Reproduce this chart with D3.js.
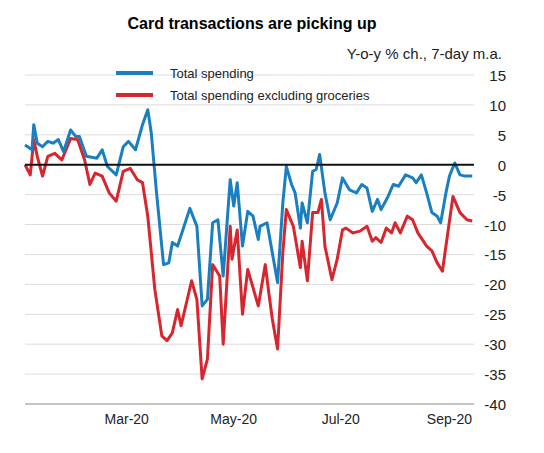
<!DOCTYPE html>
<html><head><meta charset="utf-8">
<script src="https://cdn.jsdelivr.net/npm/d3@7"></script>
<style>body{margin:0;background:#fff;font-family:Arial,"Liberation Sans",sans-serif}</style>
</head><body><div id="chart"></div>
<script>
// day of year 2020 (Jan 1 = 1) and y-o-y % change
const totalDays = [3,7,8,10,13,16,19,22,25,29,32,34,38,44,47,50,55,59,62,66,70,73,75,78,82,85,87,90,93,97,101,104,107,110,113,116,120,122,124,127,130,133,136,137,141,144,147,150,152,155,157,160,161,164,167,169,171,174,177,181,184,188,192,195,198,201,204,206,210,213,216,220,224,226,229,232,235,238,240,243,245,248,251,254,258];
const totalVals = [3.3,2.5,6.7,3.6,3,3.9,3.6,4.2,2.2,5.8,4.7,4.7,1.4,1.1,2.5,-0.3,-1.7,3,3.9,2.5,6.7,9.2,5.3,-4.7,-16.7,-16.4,-13,-13.6,-10.9,-7.3,-10.3,-23.6,-22.5,-9.7,-9.2,-18.6,-2.5,-6.9,-3,-13.6,-7.8,-8.6,-12.5,-10.3,-9.7,-14.7,-19.7,-6.4,-0.3,-3.3,-4.7,-10.6,-6.4,-9.7,-1.1,-0.8,1.7,-4.7,-9.2,-6.4,-2.2,-4.2,-4.7,-3.3,-3.9,-7.8,-5.8,-7.5,-5.3,-3.3,-3.6,-1.7,-2.2,-3,-1.7,-4.7,-8,-8.6,-9.7,-4.7,-1.9,0.3,-1.7,-1.9,-1.9];
const exGrocDays = [3,6,8,10,13,16,20,24,29,33,37,40,43,47,51,55,59,63,67,70,73,77,81,84,87,90,92,98,101,104,107,110,114,116,120,121,124,127,130,136,140,142,144,147,150,152,156,160,161,164,167,170,172,174,178,181,184,186,190,194,198,201,203,206,209,212,214,217,221,224,227,232,235,238,241,243,247,251,255,258];
const exGrocVals = [0,-1.7,4.2,1.4,-1.9,1.4,1.9,0.8,4.4,4.2,0.8,-3.3,-1.4,-1.9,-4.7,-6.1,-1.1,-0.6,-2.5,-3,-8.6,-20.8,-28.6,-29.4,-28.1,-24.2,-26.9,-19.4,-22.5,-35.8,-32.5,-16.7,-18.6,-30,-10.3,-15.8,-10.9,-25,-17.5,-23.6,-16.7,-21.4,-25.8,-30.8,-14.7,-7.5,-10.3,-17.2,-12.8,-19.4,-8,-8,-5.8,-13.6,-19.2,-15.8,-10.9,-10.6,-11.4,-11.1,-10.3,-12.8,-12.2,-13,-10.6,-11.4,-9.7,-11.4,-8.6,-9.2,-11.4,-13.6,-14.4,-16.4,-17.8,-13.6,-5.3,-8,-9.2,-9.4];
const yTicks = [15,10,5,0,-5,-10,-15,-20,-25,-30,-35,-40];
const monthTicks = [["Mar-20",3,1],["May-20",5,1],["Jul-20",7,1],["Sep-20",9,1]];
const seriesNames = ["Total spending","Total spending excluding groceries"];
const colors = ["#1a7fc1","#d7262e"];

const toDate = d => new Date(2020, 0, d);
const W = 544, H = 453;
const svg = d3.select("#chart").append("svg").attr("width", W).attr("height", H);

const x = d3.scaleTime().domain([toDate(3), toDate(259)]).range([25, 474]);
const y = d3.scaleLinear().domain([-40, 15]).range([404, 75]);

// gridlines
svg.append("g").selectAll("line").data(yTicks.filter(t => t !== 0 && t !== -40)).enter()
  .append("line").attr("x1", 25).attr("x2", 474)
  .attr("y1", d => y(d)).attr("y2", d => y(d))
  .attr("stroke", "#dcdcdc").attr("stroke-width", 1);

// right axis labels
svg.append("g").selectAll("text").data(yTicks).enter().append("text")
  .attr("x", 506).attr("y", d => y(d) + 6).attr("text-anchor", "end")
  .attr("font-size", 15).attr("fill", "#222").text(d => d);

// bottom axis
svg.append("line").attr("x1", 25).attr("x2", 474).attr("y1", y(-40)).attr("y2", y(-40))
  .attr("stroke", "#888");
svg.append("g").selectAll("text").data(monthTicks).enter().append("text")
  .attr("x", d => x(new Date(2020, d[1] - 1, d[2]))).attr("y", 424)
  .attr("text-anchor", "middle").attr("font-size", 14).attr("fill", "#222").text(d => d[0]);

const line = d3.line().x(d => x(toDate(d[0]))).y(d => y(d[1])).curve(d3.curveLinear);
const blue = totalDays.map((d, i) => [d, totalVals[i]]);
const red = exGrocDays.map((d, i) => [d, exGrocVals[i]]);

svg.append("path").attr("d", line(red)).attr("fill", "none")
  .attr("stroke", colors[1]).attr("stroke-width", 3).attr("stroke-linejoin", "round");
svg.append("path").attr("d", line(blue)).attr("fill", "none")
  .attr("stroke", colors[0]).attr("stroke-width", 3).attr("stroke-linejoin", "round");

// zero line
svg.append("line").attr("x1", 25).attr("x2", 474).attr("y1", y(0)).attr("y2", y(0))
  .attr("stroke", "#111").attr("stroke-width", 2);

// title
svg.append("text").attr("x", 252).attr("y", 29).attr("text-anchor", "middle")
  .attr("font-size", 16).attr("font-weight", "bold").text("Card transactions are picking up");
svg.append("text").attr("x", 502).attr("y", 59).attr("text-anchor", "end")
  .attr("font-size", 15).attr("fill", "#222").text("Y-o-y % ch., 7-day m.a.");

// legend
const lg = svg.append("g").selectAll("g").data(seriesNames).enter().append("g")
  .attr("transform", (d, i) => `translate(116, ${73 + i * 22})`);
lg.append("line").attr("x1", 0).attr("x2", 37).attr("stroke", (d, i) => colors[i]).attr("stroke-width", 4);
lg.append("text").attr("x", 54).attr("y", 5).attr("font-size", 13).attr("fill", "#222").text(d => d);
</script></body></html>
